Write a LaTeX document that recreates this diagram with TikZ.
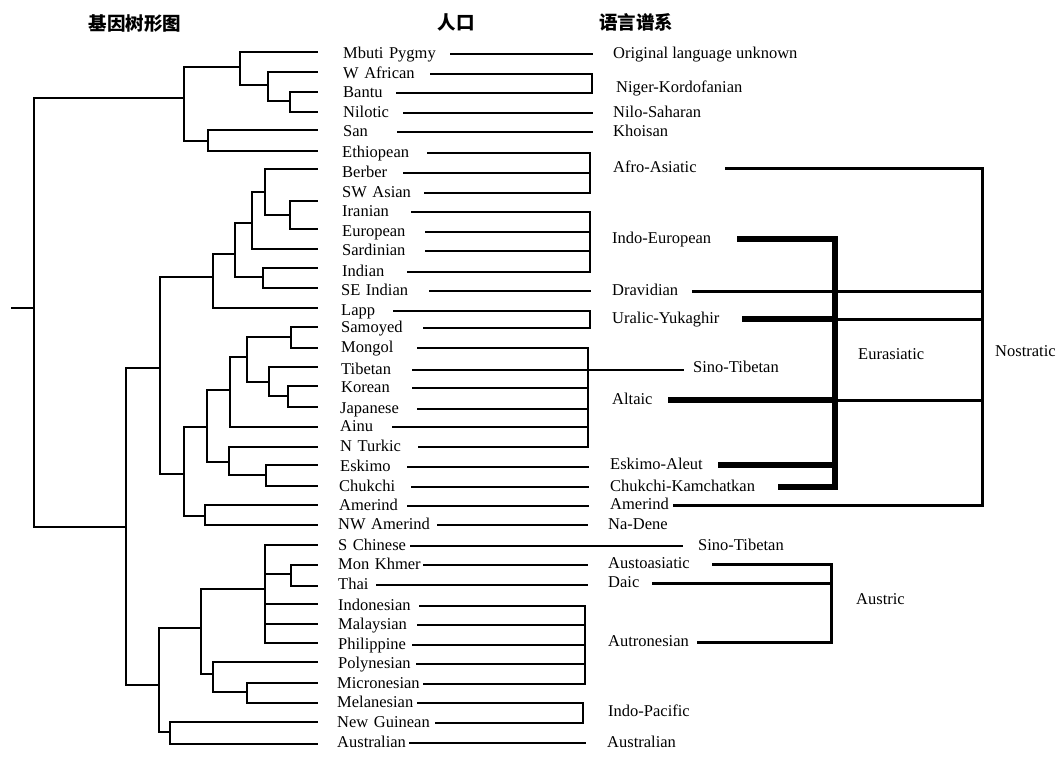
\documentclass[tikz,border=0pt]{standalone}
\usepackage{fontspec}
\setmainfont{Liberation Serif}
\newfontfamily\cjk{Noto Sans CJK SC}
\begin{document}
\begin{tikzpicture}[x=1pt,y=-1pt,
  tree/.style={line width=1.8pt, line cap=rect},
  pl/.style={line width=1.7pt, line cap=rect},
  med/.style={line width=3pt},
  thk/.style={line width=6.8pt},
  lab/.style={anchor=west, inner sep=0pt, text height=11.5pt, text depth=3pt, align=left, font=\fontsize{16.5}{18}\selectfont},
  ttl/.style={inner sep=0pt, font=\cjk\bfseries\fontsize{18.5}{20}\selectfont}]
\useasboundingbox (0,0) rectangle (1059,756);

% titles
\node[ttl] (h1) at (135,24) {基因树形图};
\node[ttl] (h2) at (456,22) {人口};
\node[ttl] (h3) at (636,22) {语言谱系};

% ---------- gene tree ----------
\foreach \i/\y in {1/52,2/72,3/92,4/112,5/130,6/151,7/169,8/201,9/229,10/249,11/268,12/288,13/308,
  14/327,15/348,16/367,17/386,18/407,19/427,20/447,21/465,22/486,23/505,24/525,
  25/545,26/565,27/586,28/604,29/624,30/643,31/662,32/683,33/703,34/722,35/744}
  \coordinate (t\i) at (317,\y);
\foreach \n/\x/\y in {s0/12/308, R/34/308, A/184/98, A1/240/67, A11/268/85, A111/290/101, A2/208/141,
  B/126/527, C/160/368, C1/213/277, C11/235/254, C111/252/223, C1111/265/192, C11111/290/215, C112/263/277,
  C2/184/474, C21/207/427, C211/230/390, C2111/247/357, C21111/291/337, C21112/269/382, C211121/288/396,
  C212/229/462, C2121/266/475, C22/205/516,
  D/159/685, D1/201/628, D11/265/589, D111/291/574, D12/213/674, D121/247/692, D2/170/732}
  \coordinate (\n) at (\x,\y);
\draw[tree] (s0) -- (R);
\foreach \p/\c in {R/A, R/B, A/A1, A/A2, A1/t1, A1/A11, A11/t2, A11/A111, A111/t3, A111/t4, A2/t5, A2/t6,
  B/C, B/D, C/C1, C/C2, C1/C11, C1/t13, C11/C111, C11/C112, C111/C1111, C111/t10, C1111/t7, C1111/C11111,
  C11111/t8, C11111/t9, C112/t11, C112/t12,
  C2/C21, C2/C22, C21/C211, C21/C212, C211/C2111, C211/t19, C2111/C21111, C2111/C21112,
  C21111/t14, C21111/t15, C21112/t16, C21112/C211121, C211121/t17, C211121/t18,
  C212/t20, C212/C2121, C2121/t21, C2121/t22, C22/t23, C22/t24,
  D/D1, D/D2, D1/D11, D1/D12, D11/t25, D11/D111, D11/t28, D11/t29, D11/t30, D111/t26, D111/t27,
  D12/t31, D12/D121, D121/t32, D121/t33, D2/t34, D2/t35}
  \draw[tree] (\p) |- (\c);

% ---------- populations ----------
\foreach \i/\y/\x/\s/\e/\t in {
  1/54/343/450/592/Mbuti Pygmy, 2/74/343/430/592/W African, 3/93/343/396/592/Bantu,
  4/113/343/403/592/Nilotic, 5/132/343/397/592/San, 6/153/342/427/590/Ethiopean,
  7/173/342/403/590/Berber, 8/193/342/424/590/SW Asian, 9/212/342/411/590/Iranian,
  10/232/342/425/590/European, 11/251/342/425/590/Sardinian, 12/272/342/407/590/Indian,
  13/291/341/429/590/SE Indian, 14/311/341/393/590/Lapp, 15/328/341/423/590/Samoyed,
  16/348/341/417/588/Mongol, 17/370/341/412/683/Tibetan, 18/388/341/412/588/Korean,
  19/409/340/417/588/Japanese, 20/427/340/392/588/Ainu, 21/447/340/418/588/N Turkic,
  22/467/340/407/588/Eskimo, 23/487/339/411/588/Chukchi, 24/506/339/407/588/Amerind,
  25/525/338/437/587/NW Amerind, 26/546/338/410/682/S Chinese, 27/565/338/423/587/Mon Khmer,
  28/585/338/376/587/Thai, 29/606/338/419/585/Indonesian, 30/625/338/417/585/Malaysian,
  31/645/338/412/585/Philippine, 32/664/338/416/585/Polynesian, 33/684/337/423/585/Micronesian,
  34/703/337/417/583/Melanesian, 35/723/337/435/583/New Guinean, 36/743/337/409/585/Australian}{
  \pgfmathsetmacro\w{\s-\x}
  \node[lab, text width=\w pt] (p\i) at (\x,\y) {\t};
  \coordinate (e\i) at (\e,\y);
  \draw[pl] (p\i.east) -- (e\i);
}
\draw[pl] (e2) -- (e3);
\draw[pl] (e6) -- (e8);
\draw[pl] (e9) -- (e12);
\draw[pl] (e14) -- (e15);
\draw[pl] (e16) -- (e21);
\draw[pl] (e29) -- (e33);
\draw[pl] (e34) -- (e35);

% ---------- language families ----------
\node[lab] (l1) at (613,54) {Original language unknown};
\node[lab] (l2) at (616,88) {Niger-Kordofanian};
\node[lab] (l3) at (613,113) {Nilo-Saharan};
\node[lab] (l4) at (613,132) {Khoisan};
\node[lab] (l9) at (693,368) {Sino-Tibetan};
\node[lab] (l14) at (608,525) {Na-Dene};
\node[lab] (l15) at (698,546) {Sino-Tibetan};
\node[lab] (l19) at (608,712) {Indo-Pacific};
\node[lab] (l20) at (607,743) {Australian};
\node[lab] (eur) at (858,355) {Eurasiatic};
\node[lab] (nos) at (995,352) {Nostratic};
\node[lab] (aus) at (856,600) {Austric};
\foreach \i/\x/\y/\s/\t in {5/613/168/725/Afro-Asiatic, 6/612/239/737/Indo-European,
  7/612/291/692/Dravidian, 8/612/319/742/Uralic-Yukaghir, 10/612/400/668/Altaic,
  11/610/465/718/Eskimo-Aleut, 12/610/487/778/Chukchi-Kamchatkan, 13/610/505/673/Amerind,
  16/608/564/712/Austoasiatic, 17/608/583/652/Daic, 18/608/642/697/Autronesian}{
  \pgfmathsetmacro\w{\s-\x}
  \node[lab, text width=\w pt] (l\i) at (\x,\y) {\t};
}
\coordinate (nB) at (982,505);
\coordinate (eB) at (835,487);
\coordinate (aB) at (831,642);
\draw[med] (l5.east) -| (nB) -- (l13.east);
\draw[thk] (l6.east) -| (eB) -- (l12.east);
\draw[med] (l7.east) -- (l7.east -| nB);
\draw[thk] (l8.east) -- (l8.east -| eB);
\draw[med] (l8.east -| eB) -- (l8.east -| nB);
\draw[thk] (l10.east) -- (l10.east -| eB);
\draw[med] (l10.east -| eB) -- (l10.east -| nB);
\draw[thk] (l11.east) -- (l11.east -| eB);
\draw[med] (l16.east) -| (aB) -- (l18.east);
\draw[med] (l17.east) -- (l17.east -| aB);
\end{tikzpicture}
\end{document}
